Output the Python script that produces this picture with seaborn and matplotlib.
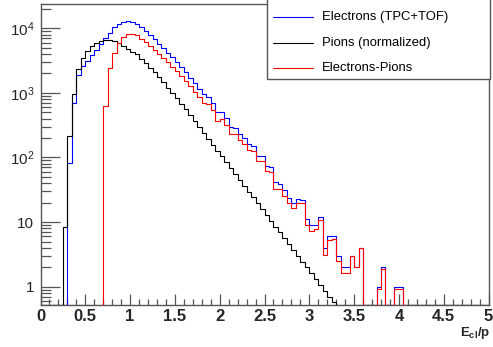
import numpy as np
import pandas as pd
import matplotlib
matplotlib.use("Agg")
import matplotlib.pyplot as plt
import seaborn as sns
from matplotlib.lines import Line2D
from matplotlib.patches import Rectangle
from matplotlib.ticker import MultipleLocator, LogLocator, NullFormatter

# ---------------- data (100 bins of width 0.05 from 0 to 5) ----------------
bin_edges = [round(0.05 * i, 2) for i in range(101)]

electrons = [
    0, 0, 0, 0, 0, 0, 83, 698, 1890, 2610,
    3120, 3870, 4610, 5710, 7000, 8550, 10400, 11660, 12380, 12830,
    12380, 11800, 10330, 8995, 7800, 6730, 5780, 4930, 4190, 3540,
    2980, 2495, 2075, 1718, 1416, 1161, 948, 871, 708, 501,
    501, 405, 300, 288, 229, 198, 160, 151, 107, 104,
    74, 70, 41, 39, 31, 24, 20, 23, 22, 11,
    9, 9, 12, 4, 6, 6, 3, 2, 2, 3,
    2, 4, 0, 0, 0, 1, 2, 0, 0, 1,
    1, 0, 0, 0, 0, 0, 0, 0, 0, 0,
    0, 0, 0, 0, 0, 0, 0, 0, 0, 0,
]

pions = [
    0, 0, 0, 0, 0, 8.4, 215, 973, 2317, 3428,
    4498, 5321, 5984, 6295, 6592, 6531, 6295, 5861, 5383, 4831,
    4345, 3981, 3404, 2897, 2455, 2070, 1738, 1452, 1208, 1000,
    826, 679, 556, 453, 367, 296, 238, 194, 157, 128,
    104, 84.1, 68.2, 55.5, 45.0, 36.6, 29.6, 24.1, 19.5, 15.9,
    12.9, 10.5, 8.49, 6.90, 5.60, 4.55, 3.69, 3.00, 2.43, 1.98,
    1.60, 1.30, 1.06, 0.86, 0.70, 0.57, 0, 0, 0, 0,
    0, 0, 0, 0, 0, 0, 0, 0, 0, 0,
    0, 0, 0, 0, 0, 0, 0, 0, 0, 0,
    0, 0, 0, 0, 0, 0, 0, 0, 0, 0,
]

electrons_minus_pions = [
    0, 0, 0, 0, 0, 0, 0, 0, 0, 0,
    0, 0, 0, 0, 627, 2400, 4190, 5990, 7260, 8160,
    8160, 7800, 6924, 6098, 5343, 4660, 4043, 3480, 2980, 2540,
    2153, 1816, 1519, 1265, 1049, 865, 710, 677, 551, 373,
    397, 321, 232, 232, 184, 161, 130, 127, 87.5, 88,
    61, 59.5, 32.5, 32, 25.4, 19.5, 16.3, 20, 19.6, 9.0,
    7.4, 7.7, 10.9, 3.14, 5.3, 5.4, 2.5, 1.6, 1.6, 2.95,
    2, 3.95, 0, 0, 0, 0.93, 1.9, 0, 0, 0.93,
    0.93, 0, 0, 0, 0, 0, 0, 0, 0, 0,
    0, 0, 0, 0, 0, 0, 0, 0, 0, 0,
]

series_names = ["Electrons (TPC+TOF)", "Pions (normalized)", "Electrons-Pions"]
series_values = [electrons, pions, electrons_minus_pions]
series_colors = ["#0000ff", "#000000", "#ff0000"]

x_tick_values = [0, 0.5, 1, 1.5, 2, 2.5, 3, 3.5, 4, 4.5, 5]
x_tick_labels = ["0", "0.5", "1", "1.5", "2", "2.5", "3", "3.5", "4", "4.5", "5"]
y_tick_values = [1, 10, 100, 1000, 10000]
y_tick_labels = ["1", "10", r"$\mathregular{10^{2}}$", r"$\mathregular{10^{3}}$", r"$\mathregular{10^{4}}$"]
x_label = r"$\mathbf{E_{cl}/p}$"

# ---------------- style ----------------
sns.set_theme(style="white")
plt.rcParams["font.family"] = ["Liberation Sans", "DejaVu Sans"]
plt.rcParams["mathtext.fontset"] = "custom"
plt.rcParams["mathtext.rm"] = "Liberation Sans"
plt.rcParams["mathtext.it"] = "Liberation Sans:italic"
plt.rcParams["mathtext.bf"] = "Liberation Sans:bold"

W, H = 493, 347
YMIN, YMAX = 0.52, 23800
FRAME = "#555555"

fig = plt.figure(figsize=(W / 100, H / 100), dpi=100)
fig.patch.set_facecolor("white")
ax = fig.add_axes([40.5 / W, 42 / H, 448 / W, 301 / H])
ax.set_facecolor("white")

edges = np.asarray(bin_edges)
centers = (edges[:-1] + edges[1:]) / 2
for name, vals, col in zip(series_names, series_values, series_colors):
    df = pd.DataFrame({"Ecl_p": centers,
                       "counts": np.clip(np.asarray(vals, dtype=float), YMIN, None)})
    sns.histplot(data=df, x="Ecl_p", weights="counts", bins=bin_edges,
                 element="step", fill=False, color=col, linewidth=0.8,
                 ax=ax, zorder=3)

ax.set_yscale("log")
ax.set_xlim(0, 5)
ax.set_ylim(YMIN, YMAX)
ax.set_ylabel("")

ax.set_xticks(x_tick_values, labels=x_tick_labels)
ax.xaxis.set_minor_locator(MultipleLocator(0.1))
ax.set_yticks(y_tick_values, labels=y_tick_labels)
ax.yaxis.set_minor_locator(LogLocator(base=10, subs=np.arange(2, 10)))
ax.yaxis.set_minor_formatter(NullFormatter())

ax.tick_params(axis="x", which="major", direction="in", length=8, width=0.9,
               color=FRAME, bottom=True, top=False, pad=3, labelsize=12)
ax.tick_params(axis="x", which="minor", direction="in", length=4, width=0.9,
               color=FRAME, bottom=True, top=False)
ax.tick_params(axis="y", which="major", direction="in", length=14, width=0.9,
               color=FRAME, left=True, right=False, pad=4.5, labelsize=11)
ax.tick_params(axis="y", which="minor", direction="in", length=7, width=0.9,
               color=FRAME, left=True, right=False)
for lbl in ax.get_xticklabels():
    lbl.set_fontweight("bold")

for s in ax.spines.values():
    s.set_visible(True)
    s.set_color(FRAME)
    s.set_linewidth(1.0)

ax.set_xlabel(x_label, loc="right", fontsize=9.5)
ax.xaxis.set_label_coords((490 - 40.5) / 448, -(325 - 305) / 301)
ax.xaxis.label.set_va("top")

# ---------------- legend (ROOT TLegend style box) ----------------
def fx(px):
    return px / W

def fy(py):
    return 1 - py / H

fig.add_artist(Rectangle((fx(267), fy(79)), fx(490) - fx(267), fy(-3) - fy(79),
                         transform=fig.transFigure, facecolor="white",
                         edgecolor=FRAME, linewidth=1.0, zorder=5))
for i, (name, col) in enumerate(zip(series_names, series_colors)):
    yy = fy([16.7, 42.7, 67.7][i])
    fig.add_artist(Line2D([fx(273), fx(313)], [yy, yy], transform=fig.transFigure,
                          color=col, linewidth=0.8, zorder=6))
    fig.text(fx(322), yy, name, fontsize=9.4, color="black", va="center",
             ha="left", zorder=6)

fig.savefig("out.png", dpi=100)
